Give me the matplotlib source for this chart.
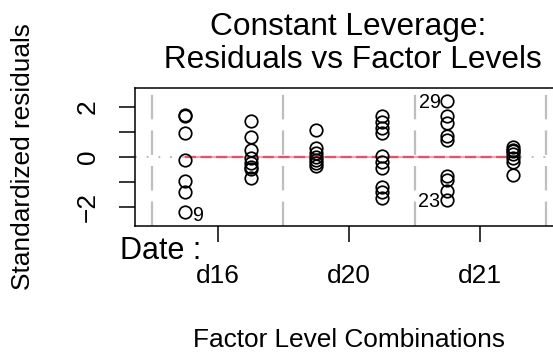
import matplotlib
matplotlib.use("Agg")
import matplotlib.pyplot as plt

plt.rcParams['font.family'] = ['Liberation Sans', 'DejaVu Sans']

# ---- data ----
group_pos = [1, 2, 3, 4, 5, 6]
res_g1 = [1.66, 1.70, 0.95, -0.10, -0.96, -1.41, -2.19]
res_g2 = [1.44, 0.81, 0.28, -0.05, -0.25, -0.40, -0.48, -0.83]
res_g3 = [1.08, 0.35, 0.15, 0.01, -0.12, -0.25, -0.35]
res_g4 = [1.65, 1.41, 1.17, 0.95, 0.05, -0.19, -0.45, -1.19, -1.39, -1.65]
res_g5 = [2.23, 1.63, 1.36, 0.83, 0.69, -0.77, -0.91, -1.37, -1.71]
res_g6 = [0.39, 0.30, 0.25, 0.12, -0.04, -0.20, -0.71]
residuals = [res_g1, res_g2, res_g3, res_g4, res_g5, res_g6]
smooth_y = [0.0, 0.0, 0.0, 0.0, 0.0, 0.0]
level_bounds = [0.5, 2.5, 4.5, 6.5]
date_tick_pos = [1.5, 3.5, 5.5]
date_labels = ["d16", "d20", "d21"]
# labelled points: (id, group, value, side)
id_labels = [("9", 1, -2.19, "right"), ("29", 5, 2.23, "left"), ("23", 5, -1.71, "left")]
yticks = [-2, -1, 0, 1, 2]
ytick_labels = ["\u22122", "", "0", "", "2"]

W, H = 553, 354
fig = plt.figure(figsize=(W / 100, H / 100), dpi=100)
ax = fig.add_axes([135 / W, 1 - 226 / H, 427 / W, 138 / H])
ax.set_xlim(0.238, 6.747)
ax.set_ylim(-2.76, 2.76)

ax.axhline(0, color="#BEBEBE", lw=1.4, linestyle=(0, (1, 5)), zorder=1)
for b in level_bounds:
    ax.axvline(b, color="#BEBEBE", lw=1.6, linestyle=(0, (11, 5)), zorder=1)

for g, vals in zip(group_pos, residuals):
    ax.plot([g] * len(vals), vals, linestyle="none", marker="o", ms=9.0,
            mfc="none", mec="black", mew=1.25, zorder=3)

ax.plot(group_pos, smooth_y, color="#F2A5B1", lw=1.6, zorder=2)
ax.plot(group_pos, smooth_y, color="#DF536B", lw=1.6, linestyle=(0, (5, 2)), zorder=2)

for lab, g, v, side in id_labels:
    if side == "right":
        ax.annotate(lab, (g, v), xytext=(5, -3), textcoords="offset points",
                    ha="left", va="center", fontsize=14.2)
    else:
        ax.annotate(lab, (g, v), xytext=(-5, -1), textcoords="offset points",
                    ha="right", va="center", fontsize=14.2)

for s in ax.spines.values():
    s.set_linewidth(1.1)

ax.set_yticks(yticks)
ax.set_yticklabels(ytick_labels, rotation=90, va="center", fontsize=18.9)
ax.tick_params(axis="y", length=11.5, width=1.1, pad=14)

ax.set_xticks(date_tick_pos)
ax.set_xticklabels(date_labels, fontsize=18.9)
ax.tick_params(axis="x", length=11.5, width=1.1, pad=16)

fig.text(348.5 / W, 1 - 35 / H, "Constant Leverage:", ha="center", va="baseline", fontsize=22.8)
fig.text(348.5 / W, 1 - 68 / H, " Residuals vs Factor Levels", ha="center", va="baseline", fontsize=22.8)
fig.text(23 / W, 1 - 157 / H, "Standardized residuals", rotation=90, ha="center", va="center", fontsize=18.9)
fig.text(349 / W, 1 - 346.7 / H, "Factor Level Combinations", ha="center", va="baseline", fontsize=18.9)
fig.text(120 / W, 1 - 259.3 / H, "Date :", ha="left", va="baseline", fontsize=22)

fig.savefig("out.png", dpi=100)
